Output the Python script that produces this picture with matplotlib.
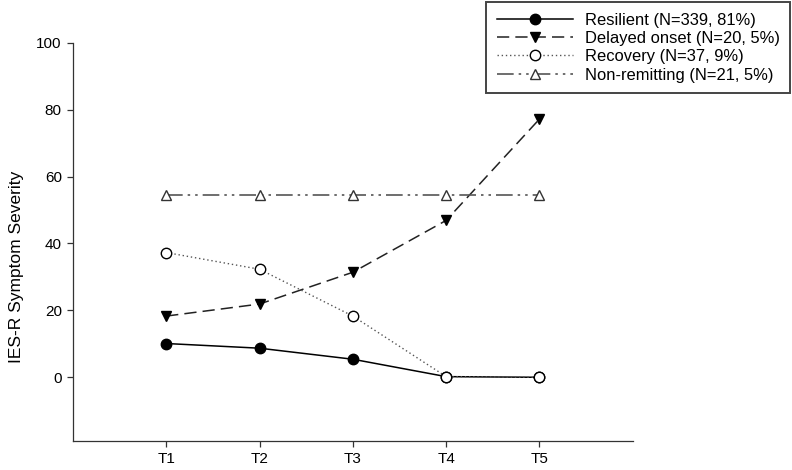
import numpy as np
import matplotlib
matplotlib.use("Agg")
import matplotlib.pyplot as plt

plt.rcParams["font.family"] = ["Liberation Sans", "DejaVu Sans"]

# ---- data ----
timepoints = ["T1", "T2", "T3", "T4", "T5"]
resilient = [10.1, 8.7, 5.4, 0.2, 0.0]
delayed = [18.3, 21.9, 31.4, 46.9, 77.2]
recovery = [37.3, 32.3, 18.3, 0.2, 0.0]
non_remitting = [54.6, 54.6, 54.6, 54.6, 54.6]

labels = [
    "Resilient (N=339, 81%)",
    "Delayed onset (N=20, 5%)",
    "Recovery (N=37, 9%)",
    "Non-remitting (N=21, 5%)",
]

x = np.arange(1, len(timepoints) + 1)

fig = plt.figure(figsize=(7.92, 4.70), dpi=100)
ax = fig.add_axes([0.092, 0.062, 0.707, 0.847])

ax.plot(x, resilient, color="black", lw=1.1, marker="o", ms=7.5,
        mfc="black", mec="black", label=labels[0])
ax.plot(x, delayed, color="#222222", lw=1.1, ls=(0, (8, 4)), marker="v", ms=7.5,
        mfc="black", mec="black", label=labels[1])
ax.plot(x, recovery, color="#555555", lw=1.0, ls=(0, (1, 2)), marker="o", ms=7.5,
        mfc="white", mec="black", mew=1.0, label=labels[2])
ax.plot(x, non_remitting, color="#555555", lw=1.2, ls=(0, (10, 3, 1.5, 3, 1.5, 3)),
        marker="^", ms=7.5, mfc="white", mec="#333333", mew=1.0, label=labels[3])

ax.set_xlim(0, 6)
ax.set_ylim(-19, 100)
ax.set_xticks(x)
ax.set_xticklabels(timepoints)
ax.set_yticks([0, 20, 40, 60, 80, 100])
ax.tick_params(direction="out", length=4, width=0.9, labelsize=11, colors="#333333",
               labelcolor="black", pad=4)
ax.set_ylabel("IES-R Symptom Severity", fontsize=12.5)
ax.yaxis.set_label_coords(-0.087, 0.437)

for side in ["top", "right"]:
    ax.spines[side].set_visible(False)
for side in ["left", "bottom"]:
    ax.spines[side].set_color("#333333")
    ax.spines[side].set_linewidth(0.9)

leg = fig.legend(loc="upper right", bbox_to_anchor=(0.998, 0.996), fontsize=11.9,
                 handlelength=4.6, handletextpad=0.7, labelspacing=0.2,
                 fancybox=False, framealpha=1, borderpad=0.65, borderaxespad=0.0)
leg.get_frame().set_edgecolor("#444444")
leg.get_frame().set_linewidth(1.4)

plt.savefig("out.png", dpi=100)
plt.close()
